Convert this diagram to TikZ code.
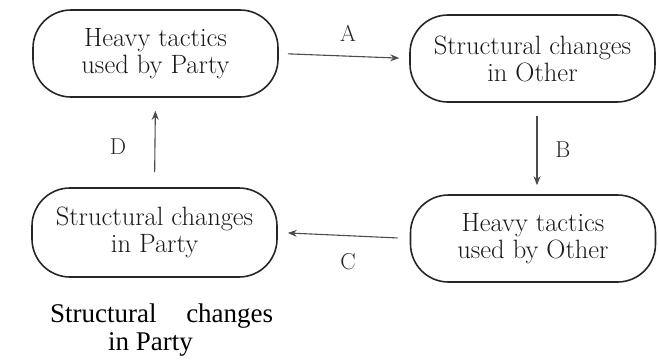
\documentclass[tikz,border=0pt]{standalone}
\usepackage{fontspec}
\newfontfamily\timesfont{LiberationSerif-Regular.ttf}
\usetikzlibrary{arrows.meta}
\begin{document}
\begin{tikzpicture}[x=1pt,y=-1pt,
  box/.style={draw=black!85, line width=1.6pt, rounded corners=38pt,
    minimum width=245pt, minimum height=87pt, align=center, inner sep=0pt,
    font=\fontsize{26.5}{27}\selectfont, text=black!90},
  arr/.style={draw=black!70, line width=1.1pt, -{Stealth[length=9pt,width=7pt]}},
  lbl/.style={font=\fontsize{23}{24}\selectfont, text=black!85, inner sep=0pt}]
\useasboundingbox (0,0) rectangle (658,359);
\node[box] (b1) at (155.5,53.5) {Heavy tactics\\used by Party};
\node[box] (b2) at (532.5,58.5) {Structural changes\\in Other};
\node[box] (b3) at (533,238.5) {Heavy tactics\\used by Other};
\node[box, minimum height=89pt] (b4) at (154.5,232.5) {Structural changes\\in Party};
\draw[arr, shorten <=9pt, shorten >=10pt] (b1.east) -- (b2.west);
\draw[arr, shorten <=13pt, shorten >=9pt] ([xshift=4.5pt]b2.south) -- ([xshift=4pt]b3.north);
\draw[arr, shorten <=12pt, shorten >=10pt] (b3.west) -- (b4.east);
\draw[arr, shorten <=15pt, shorten >=13pt] (b4.north) -- (b1.south);
\node[lbl] (la) at (348,33) {A};
\node[lbl] (lb) at (563,150) {B};
\node[lbl] (lc) at (348,262) {C};
\node[lbl] (ld) at (118,147) {D};
\node[anchor=base west, align=left, inner sep=0pt, font=\timesfont\fontsize{27}{28}\selectfont] (note) at (50,350)
  {\makebox[223pt][s]{Structural changes}\\\hspace*{58pt}in Party};
\end{tikzpicture}
\end{document}
